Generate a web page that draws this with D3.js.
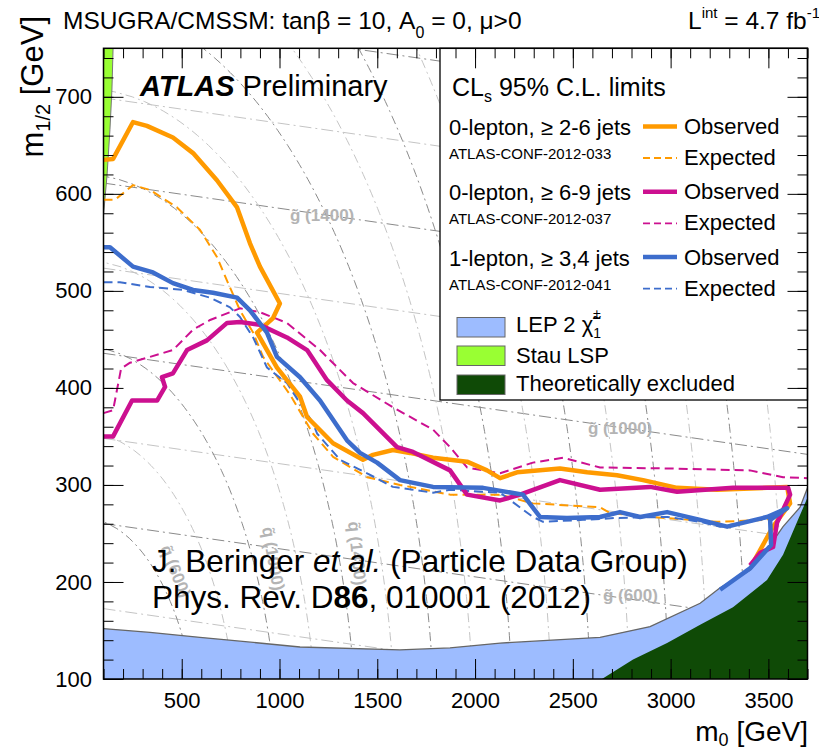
<!DOCTYPE html>
<html>
<head>
<meta charset="utf-8">
<script src="https://cdn.jsdelivr.net/npm/d3@7"></script>
<style>
  body {margin: 0; background: #fff;}
  text {font-family: "Liberation Sans", Arial, Helvetica, sans-serif;}
</style>
</head>
<body>
<div id="vis"></div>
<script>
//build frame
const FRAME_WIDTH = 819;
const FRAME_HEIGHT = 750;
const MARGINS = {left: 103.5, right: 11.5, top: 48.3, bottom: 71};
const VIS_WIDTH = FRAME_WIDTH - MARGINS.left - MARGINS.right;
const VIS_HEIGHT = FRAME_HEIGHT - MARGINS.top - MARGINS.bottom;

//axis ranges and ticks
const M0_DOMAIN = [100, 3700];
const M12_DOMAIN = [100, 750];
const X_MAJOR = [500, 1000, 1500, 2000, 2500, 3000, 3500];
const X_MINOR = d3.range(100, 3701, 100);
const Y_MAJOR = [100, 200, 300, 400, 500, 600, 700];
const Y_MINOR = d3.range(100, 741, 20);

//exclusion contours, [m0, m1/2] in GeV
const ORANGE_OBS = [[100,635],[149,636],[251,674],[322,670],[455,658],[558,642],[680,614],[783,586],[849,549],[900,525],[1002,487],[967,472],[885,457],[987,421],[1105,391],[1141,370],[1274,343],[1427,326],[1478,331],[1580,336],[1667,333],[1785,328],[1959,324],[2061,315],[2128,307],[2215,313],[2434,317],[2573,313],[2726,310],[2859,305],[3033,297],[3237,295],[3493,297],[3596,298],[3611,281],[3524,257],[3422,220]];
const ORANGE_EXP = [[100,594],[159,594],[251,609],[338,604],[476,586],[593,563],[680,535],[737,508],[798,480],[865,457],[916,432],[1054,393],[1171,353],[1274,329],[1448,308],[1616,300],[1872,290],[2128,290],[2296,281],[2639,277],[2690,271],[2895,267],[3237,262],[3493,264],[3575,276]];
const MAGENTA_OBS = [[100,350],[149,350],[246,387],[374,387],[415,401],[399,411],[455,415],[527,439],[629,449],[732,467],[798,468],[900,465],[1038,452],[1141,439],[1243,408],[1345,387],[1427,374],[1601,339],[1683,334],[1872,315],[1959,290],[2128,284],[2230,290],[2434,305],[2639,295],[2895,298],[3033,293],[3319,297],[3601,297],[3611,290],[3544,261],[3524,236],[3458,230],[3406,217]];
const MAGENTA_EXP = [[100,374],[149,377],[190,420],[236,426],[338,432],[455,439],[558,460],[645,470],[798,482],[900,478],[1038,467],[1207,439],[1376,405],[1580,380],[1785,357],[1872,339],[1959,318],[2128,312],[2296,323],[2450,328],[2639,318],[2982,317],[3406,315],[3575,308],[3700,307]];
const BLUE_OBS = [[100,545],[133,545],[251,525],[353,519],[455,508],[558,501],[660,498],[783,493],[849,480],[936,457],[987,432],[1105,411],[1207,387],[1345,346],[1412,333],[1499,323],[1616,305],[1785,298],[2041,297],[2245,290],[2332,267],[2470,266],[2639,267],[2741,272],[2844,267],[2982,272],[3151,264],[3289,257],[3493,267],[3596,276],[3509,264],[3514,238],[3406,214],[3253,192]];
const BLUE_EXP = [[100,509],[184,509],[338,504],[507,501],[645,493],[747,483],[798,473],[865,452],[936,421],[1038,405],[1171,364],[1192,353],[1309,326],[1448,312],[1580,298],[1785,292],[1872,295],[2128,292],[2296,267],[2348,262],[2552,264],[2726,266],[2982,267],[3151,262],[3253,257],[3458,264],[3575,272]];

//excluded regions
const LEP_EDGE = [[100,152],[338,148],[593,143],[1105,133],[1616,130],[1872,132],[2128,137],[2639,143],[2895,154],[3151,178],[3253,194],[3406,212],[3493,233],[3575,257],[3662,277],[3700,297]];
const THEO_EDGE = [[2649,100],[2808,120],[2982,137],[3151,156],[3319,174],[3493,202],[3575,228],[3647,262],[3700,287]];
const STAU_EDGE = [[100,750],[149,750],[143,707],[133,666],[118,619],[100,578]];

//iso-mass reference grid (GeV)
const GLUINO_MASSES = [400, 600, 800, 1000, 1200, 1400, 1600, 1800];
const SQUARK_MASSES = [600, 800, 1000, 1200, 1400, 1600, 1800, 2000, 2200, 2400, 2600, 2800, 3000, 3200, 3400, 3600, 3800];
const GRID_LABELS = ["\u0067\u0303 (1400)", "\u0067\u0303 (1000)", "\u0067\u0303 (600)"];
const SQ_LABELS = ["\u0071\u0303 (600)", "\u0071\u0303 (1000)", "\u0071\u0303 (1400)"];

//legend
const LEGEND_ROWS = ["0-lepton, \u2265 2-6 jets", "0-lepton, \u2265 6-9 jets", "1-lepton, \u2265 3,4 jets"];
const LEGEND_CONF = ["ATLAS-CONF-2012-033", "ATLAS-CONF-2012-037", "ATLAS-CONF-2012-041"];
const COLORS = ["#ff9a00", "#cc1090", "#3d6dcc"];
const FILL_COLORS = {lep: "#9dbcff", stau: "#99ff33", theo: "#0f4a06"};

const FRAME = d3.select("#vis")
  .append("svg")
  .attr("width", FRAME_WIDTH)
  .attr("height", FRAME_HEIGHT);

const X_SCALE = d3.scaleLinear().domain(M0_DOMAIN).range([MARGINS.left, MARGINS.left + VIS_WIDTH]);
const Y_SCALE = d3.scaleLinear().domain(M12_DOMAIN).range([MARGINS.top + VIS_HEIGHT, MARGINS.top]);

FRAME.append("clipPath").attr("id", "plotclip")
  .append("rect")
  .attr("x", MARGINS.left).attr("y", MARGINS.top)
  .attr("width", VIS_WIDTH).attr("height", VIS_HEIGHT);

const PLOT = FRAME.append("g").attr("clip-path", "url(#plotclip)");
const line = d3.line().x(d => X_SCALE(d[0])).y(d => Y_SCALE(d[1]));

//mass contours (approximate mSUGRA mass relations)
GLUINO_MASSES.forEach((m) => {
  const pts = [100, 3700].map(m0 => [m0, (m - 0.066 * m0) / 2.28]);
  PLOT.append("path")
    .attr("d", line(pts))
    .attr("fill", "none")
    .attr("stroke", m % 400 == 200 ? "#8a8a8a" : "#c4c4c4")
    .attr("stroke-width", 1)
    .attr("stroke-dasharray", "12,4,2,4");
});
SQUARK_MASSES.forEach((m) => {
  const top = Math.min(750, Math.sqrt((m * m - 100 * 100) / 5.1));
  const pts = d3.range(100, top, 5).concat([top]).map(m12 => [Math.sqrt(Math.max(0, m * m - 5.1 * m12 * m12)), m12]);
  PLOT.append("path")
    .attr("d", line(pts))
    .attr("fill", "none")
    .attr("stroke", m % 400 == 200 ? "#8a8a8a" : "#c4c4c4")
    .attr("stroke-width", 1)
    .attr("stroke-dasharray", "9,4,2,4");
});

//mass labels
const GLUINO_POS = [[290, 221], [588, 434], [603, 601]];
GRID_LABELS.forEach((t, i) => {
  FRAME.append("text")
    .attr("x", GLUINO_POS[i][0]).attr("y", GLUINO_POS[i][1])
    .attr("font-size", 17).attr("font-weight", "bold")
    .attr("fill", "#b4b4b4")
    .text(t);
});
const SQ_POS = [[160, 548, 68], [262, 528, 80], [348, 522, 84]];
SQ_LABELS.forEach((t, i) => {
  FRAME.append("text")
    .attr("transform", "translate(" + SQ_POS[i][0] + "," + SQ_POS[i][1] + ") rotate(" + SQ_POS[i][2] + ")")
    .attr("font-size", 17).attr("font-weight", "bold")
    .attr("fill", "#b4b4b4")
    .text(t);
});

//filled regions
PLOT.append("path")
  .attr("d", line(LEP_EDGE.concat([[3700, 100], [100, 100]])))
  .attr("fill", FILL_COLORS.lep);
PLOT.append("path")
  .attr("d", line(LEP_EDGE))
  .attr("fill", "none").attr("stroke", "#666").attr("stroke-width", 1.3);
PLOT.append("path")
  .attr("d", line(THEO_EDGE.concat([[3700, 100]])))
  .attr("fill", FILL_COLORS.theo);
PLOT.append("path")
  .attr("d", line(STAU_EDGE))
  .attr("fill", FILL_COLORS.stau).attr("stroke", "#777").attr("stroke-width", 1);

//limit curves
const CURVES = [
  [ORANGE_EXP, 0, true], [MAGENTA_EXP, 1, true], [BLUE_EXP, 2, true],
  [ORANGE_OBS, 0, false], [MAGENTA_OBS, 1, false], [BLUE_OBS, 2, false]
];
CURVES.forEach((c) => {
  PLOT.append("path")
    .attr("d", line(c[0]))
    .attr("fill", "none")
    .attr("stroke", COLORS[c[1]])
    .attr("stroke-width", c[2] ? 2 : 4.5)
    .attr("stroke-linejoin", "round")
    .attr("stroke-dasharray", c[2] ? "9,5" : null);
});

//legend box
FRAME.append("rect")
  .attr("x", 440).attr("y", MARGINS.top)
  .attr("width", MARGINS.left + VIS_WIDTH - 440).attr("height", 400 - MARGINS.top)
  .attr("fill", "#fff").attr("stroke", "#000").attr("stroke-width", 1.3);

const LTITLE = FRAME.append("text").attr("x", 452).attr("y", 96).attr("font-size", 25);
LTITLE.append("tspan").text("CL");
LTITLE.append("tspan").attr("font-size", 16).attr("dy", 6).text("s");
LTITLE.append("tspan").attr("dy", -6).text(" 95% C.L. limits");

LEGEND_ROWS.forEach((t, i) => {
  const y0 = 135 + i * 65.3;
  FRAME.append("text").attr("x", 449).attr("y", y0).attr("font-size", 22).text(t);
  FRAME.append("text").attr("x", 449).attr("y", y0 + 24).attr("font-size", 15).text(LEGEND_CONF[i]);
  FRAME.append("line")
    .attr("x1", 643).attr("x2", 677).attr("y1", y0 - 8.5).attr("y2", y0 - 8.5)
    .attr("stroke", COLORS[i]).attr("stroke-width", 4.5);
  FRAME.append("line")
    .attr("x1", 643).attr("x2", 677).attr("y1", y0 + 23).attr("y2", y0 + 23)
    .attr("stroke", COLORS[i]).attr("stroke-width", 1.8).attr("stroke-dasharray", "7,4");
  FRAME.append("text").attr("x", 684).attr("y", y0 - 1).attr("font-size", 22).text("Observed");
  FRAME.append("text").attr("x", 684).attr("y", y0 + 30).attr("font-size", 22).text("Expected");
});

const FILL_KEYS = [["lep", 317.5], ["stau", 346], ["theo", 375]];
FILL_KEYS.forEach((k) => {
  FRAME.append("rect")
    .attr("x", 457).attr("y", k[1]).attr("width", 48).attr("height", 19.5)
    .attr("fill", FILL_COLORS[k[0]]).attr("stroke", "#666").attr("stroke-width", 1);
});
const LEP_TXT = FRAME.append("text").attr("x", 516).attr("y", 332).attr("font-size", 22);
LEP_TXT.append("tspan").text("LEP 2 \u03C7\u0303");
LEP_TXT.append("tspan").attr("font-size", 14).attr("dy", 6).text("1");
LEP_TXT.append("tspan").attr("font-size", 14).attr("dx", -8).attr("dy", -19).text("\u00B1");
FRAME.append("text").attr("x", 516).attr("y", 362.5).attr("font-size", 22).text("Stau LSP");
FRAME.append("text").attr("x", 516).attr("y", 391).attr("font-size", 22).text("Theoretically excluded");

//axes with inward ticks
function clean(g) { g.select(".domain").remove(); }
FRAME.append("g").attr("transform", "translate(0," + (MARGINS.top + VIS_HEIGHT) + ")")
  .call(d3.axisBottom(X_SCALE).tickValues(X_MINOR).tickSizeInner(-10).tickSizeOuter(0).tickFormat(""))
  .call(clean);
FRAME.append("g").attr("transform", "translate(0," + (MARGINS.top + VIS_HEIGHT) + ")")
  .call(d3.axisBottom(X_SCALE).tickValues(X_MAJOR).tickSizeInner(-20).tickSizeOuter(0).tickPadding(13).tickFormat(d3.format("d")))
  .call(clean)
  .attr("font-size", 22).attr("font-family", null);
FRAME.append("g").attr("transform", "translate(0," + MARGINS.top + ")")
  .call(d3.axisTop(X_SCALE).tickValues(X_MINOR).tickSizeInner(-10).tickSizeOuter(0).tickFormat(""))
  .call(clean);
FRAME.append("g").attr("transform", "translate(0," + MARGINS.top + ")")
  .call(d3.axisTop(X_SCALE).tickValues(X_MAJOR).tickSizeInner(-20).tickSizeOuter(0).tickFormat(""))
  .call(clean);
FRAME.append("g").attr("transform", "translate(" + MARGINS.left + ",0)")
  .call(d3.axisLeft(Y_SCALE).tickValues(Y_MINOR).tickSizeInner(-10).tickSizeOuter(0).tickFormat(""))
  .call(clean);
FRAME.append("g").attr("transform", "translate(" + MARGINS.left + ",0)")
  .call(d3.axisLeft(Y_SCALE).tickValues(Y_MAJOR).tickSizeInner(-20).tickSizeOuter(0).tickPadding(11.5))
  .call(clean)
  .attr("font-size", 22).attr("font-family", null);
FRAME.append("g").attr("transform", "translate(" + (MARGINS.left + VIS_WIDTH) + ",0)")
  .call(d3.axisRight(Y_SCALE).tickValues(Y_MINOR).tickSizeInner(-10).tickSizeOuter(0).tickFormat(""))
  .call(clean);
FRAME.append("g").attr("transform", "translate(" + (MARGINS.left + VIS_WIDTH) + ",0)")
  .call(d3.axisRight(Y_SCALE).tickValues(Y_MAJOR).tickSizeInner(-20).tickSizeOuter(0).tickFormat(""))
  .call(clean);
FRAME.selectAll(".tick text").attr("fill", "#000");

FRAME.append("rect")
  .attr("x", MARGINS.left).attr("y", MARGINS.top)
  .attr("width", VIS_WIDTH).attr("height", VIS_HEIGHT)
  .attr("fill", "none").attr("stroke", "#000").attr("stroke-width", 1.5);

//titles and annotations
const TITLE = FRAME.append("text").attr("x", 63).attr("y", 29).attr("font-size", 24.5);
TITLE.append("tspan").text("MSUGRA/CMSSM: tan\u03B2 = 10, A");
TITLE.append("tspan").attr("font-size", 16).attr("dy", 9).text("0");
TITLE.append("tspan").attr("dy", -9).text(" = 0, \u03BC>0");

const LUMI = FRAME.append("text").attr("x", 688).attr("y", 29).attr("font-size", 24.5);
LUMI.append("tspan").text("L");
LUMI.append("tspan").attr("font-size", 15).attr("dy", -11).text("int");
LUMI.append("tspan").attr("dy", 11).text(" = 4.7 fb");
LUMI.append("tspan").attr("font-size", 15).attr("dy", -11).text("-1");

const ATL = FRAME.append("text").attr("x", 140).attr("y", 96).attr("font-size", 29);
ATL.append("tspan").attr("font-weight", "bold").attr("font-style", "italic").text("ATLAS");
ATL.append("tspan").text(" Preliminary");

const XT = FRAME.append("text").attr("x", 808).attr("y", 741).attr("font-size", 28).attr("text-anchor", "end");
XT.append("tspan").text("m");
XT.append("tspan").attr("font-size", 18).attr("dy", 5).text("0");
XT.append("tspan").attr("dy", -5).text(" [GeV]");

const YT = FRAME.append("text").attr("transform", "translate(43,16) rotate(-90)").attr("font-size", 31).attr("text-anchor", "end");
YT.append("tspan").text("m");
YT.append("tspan").attr("font-size", 20).attr("dy", 7).text("1/2");
YT.append("tspan").attr("dy", -7).text(" [GeV]");

const REF1 = FRAME.append("text").attr("x", 152).attr("y", 572).attr("font-size", 31.5);
REF1.append("tspan").text("J. Beringer ");
REF1.append("tspan").attr("font-style", "italic").text("et al.");
REF1.append("tspan").text(" (Particle Data Group)");
const REF2 = FRAME.append("text").attr("x", 152).attr("y", 608).attr("font-size", 31.5);
REF2.append("tspan").text("Phys. Rev. D");
REF2.append("tspan").attr("font-weight", "bold").text("86");
REF2.append("tspan").text(", 010001 (2012)");
</script>
</body>
</html>
